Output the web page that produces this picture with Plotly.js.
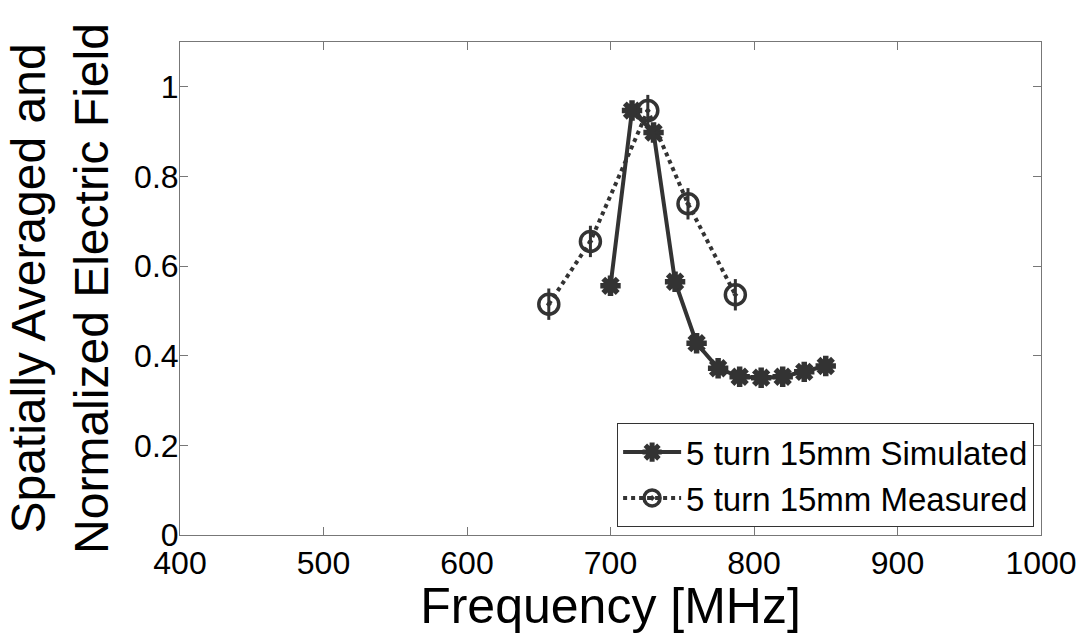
<!DOCTYPE html>
<html>
<head>
<meta charset="utf-8">
<script src="https://cdn.plot.ly/plotly-3.0.1.min.js"></script>
<style>html,body{margin:0;padding:0;background:#fff;}#chart{width:1086px;height:634px;}</style>
</head>
<body>
<div id="chart"></div>
<script>
const simFreq = [700, 715, 730, 745, 760, 775, 790, 805, 820, 835, 850];
const simVal  = [0.556, 0.947, 0.898, 0.565, 0.428, 0.372, 0.353, 0.351, 0.353, 0.364, 0.377];
const measFreq = [657, 686, 726, 754, 787];
const measVal  = [0.515, 0.655, 0.947, 0.739, 0.536];
const measErr  = [0.035, 0.035, 0.035, 0.035, 0.035];
const simName = "5 turn 15mm Simulated";
const measName = "5 turn 15mm Measured";
const xTicks = [400, 500, 600, 700, 800, 900, 1000];
const yTicks = [0, 0.2, 0.4, 0.6, 0.8, 1];

const col = '#333333';
const traces = [
  {
    x: simFreq, y: simVal, name: simName, type: 'scatter', mode: 'lines+markers',
    line: {color: col, width: 4, dash: 'solid'},
    marker: {symbol: 'asterisk-open', size: 17, color: col, line: {color: col, width: 5.5}}
  },
  {
    x: measFreq, y: measVal, name: measName, type: 'scatter', mode: 'lines+markers',
    line: {color: col, width: 4, dash: 'dot'},
    marker: {symbol: 'circle-open-dot', size: 20, color: col, line: {color: col, width: 3.5}},
    error_y: {type: 'data', array: measErr, visible: true, width: 0, thickness: 3, color: col}
  }
];
const font = 'Liberation Sans, Arial, sans-serif';
const layout = {
  width: 1086, height: 634,
  margin: {l: 180, r: 45, t: 42, b: 99},
  paper_bgcolor: '#fff', plot_bgcolor: '#fff',
  font: {family: font, color: '#000'},
  showlegend: true,
  legend: {
    x: 0.992, y: 0.016, xanchor: 'right', yanchor: 'bottom',
    bgcolor: '#fff', bordercolor: '#333', borderwidth: 1,
    font: {family: font, size: 33, color: '#000'},
    itemwidth: 58, tracegroupgap: 0
  },
  xaxis: {
    range: [400, 1000], tickvals: xTicks, ticktext: xTicks.map(String),
    showgrid: false, zeroline: false, showline: true, linecolor: '#777', linewidth: 1,
    mirror: 'ticks', ticks: 'inside', ticklen: 8, tickcolor: '#777',
    tickfont: {family: font, size: 32, color: '#000'},
    title: {text: 'Frequency [MHz]', font: {family: font, size: 50, color: '#000'}, standoff: 0},
    automargin: false
  },
  yaxis: {
    range: [0, 1.1], tickvals: yTicks, ticktext: yTicks.map(String),
    showgrid: false, zeroline: false, showline: true, linecolor: '#777', linewidth: 1,
    mirror: 'ticks', ticks: 'inside', ticklen: 8, tickcolor: '#777',
    tickfont: {family: font, size: 32, color: '#000'},
    ticklabelstandoff: -6,
    title: {text: 'Spatially Averaged and<br>Normalized Electric Field', font: {family: font, size: 48, color: '#000'}, standoff: 10},
    automargin: false
  }
};
Plotly.newPlot('chart', traces, layout, {displayModeBar: false, staticPlot: true});
</script>
</body>
</html>
